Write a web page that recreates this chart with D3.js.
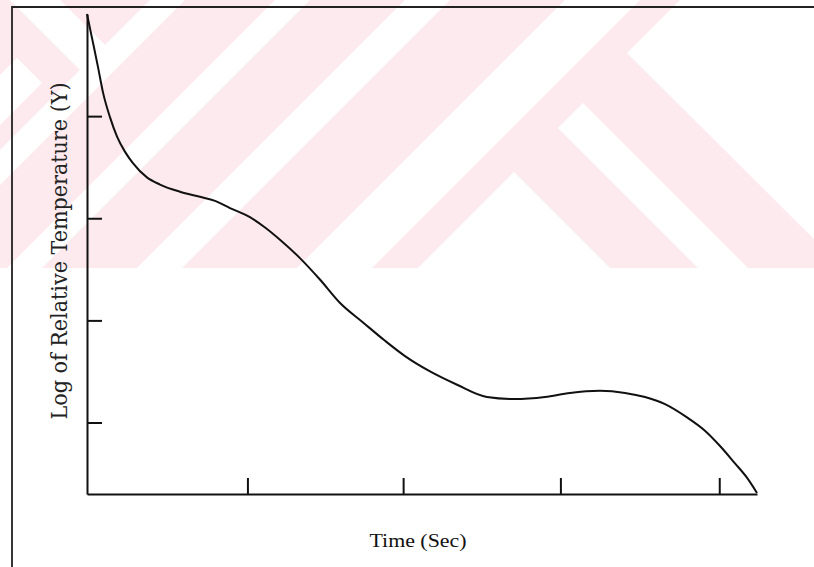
<!DOCTYPE html>
<html>
<head>
<meta charset="utf-8">
<script src="https://cdn.jsdelivr.net/npm/d3@7"></script>
<style>
  body { margin: 0; background: #fff; }
</style>
</head>
<body>
<div id="chart"></div>
<script>
// curve (arbitrary units)
var timeValues = [0, 0.038, 0.070, 0.102, 0.146, 0.191, 0.242, 0.292, 0.381, 0.464,
    0.591, 0.718, 0.814, 0.909, 1.036, 1.132, 1.227, 1.354, 1.481, 1.609,
    1.755, 1.895, 2.022, 2.181, 2.353, 2.543, 2.715, 2.912, 3.071, 3.262,
    3.421, 3.548, 3.675, 3.815, 3.929, 4.025, 4.120, 4.196, 4.260];
var logTemp = [5.00, 4.72, 4.48, 4.23, 3.99, 3.80, 3.65, 3.54, 3.40, 3.33,
    3.26, 3.21, 3.17, 3.10, 3.01, 2.91, 2.79, 2.61, 2.40, 2.17,
    1.98, 1.80, 1.65, 1.50, 1.37, 1.25, 1.23, 1.25, 1.29, 1.31,
    1.29, 1.25, 1.18, 1.05, 0.92, 0.77, 0.60, 0.46, 0.31];
var xTicks = [1.02, 2.01, 3.01, 4.02];
var yTicks = [1, 2, 3, 4];
var xLabel = 'Time (Sec)';
var yLabel = 'Log of Relative Temperature (Y)';

var width = 814;
var height = 567;

var svg = d3.select('#chart')
    .append('svg')
    .attr('width', width)
    .attr('height', height);

// pink watermark band of the scan
var band = {w: 814, h: 268};
svg.append('clipPath').attr('id', 'bandClip')
    .append('rect').attr('width', band.w).attr('height', band.h);
var wm = svg.append('g').attr('clip-path', 'url(#bandClip)');
wm.append('rect').attr('width', band.w).attr('height', band.h).attr('fill', '#fdeaee');

// white gaps: up-right stripes (x+y = c) and down-right pieces
function upStripe(c1, c2) {
    return [[c1, 0], [c2, 0], [c2 - band.h, band.h], [c1 - band.h, band.h]];
}
var gaps = [
    upStripe(150, 185), upStripe(275, 310), upStripe(405, 450), upStripe(565, 640),
    [[10, 0], [60, 0], [110, 50], [85, 75]],
    [[0, 75], [17, 58], [42, 83], [0, 125]],
    [[514, 172], [610, 268], [418, 268]],
    [[558, 128], [583, 103], [748, 268], [698, 268]],
    [[627, 53], [680, 0], [814, 0], [814, 239]]
];
wm.selectAll('polygon')
    .data(gaps)
    .enter()
    .append('polygon')
    .attr('points', function (d) { return d.map(function (p) { return p.join(','); }).join(' '); })
    .attr('fill', '#fff');

// frame lines of the scanned page
svg.append('path')
    .attr('d', 'M12,567V7H814')
    .attr('fill', 'none')
    .attr('stroke', '#222')
    .attr('stroke-width', 1.8);

var xScale = d3.scaleLinear()
    .domain([0, 4.26])
    .range([87, 757]);
var yScale = d3.scaleLinear()
    .domain([0.3, 5.0])
    .range([494, 14]);

var xAxis = d3.axisBottom(xScale)
    .tickValues(xTicks)
    .tickSize(-16)
    .tickSizeOuter(0)
    .tickFormat('');
var yAxis = d3.axisLeft(yScale)
    .tickValues(yTicks)
    .tickSize(-15)
    .tickSizeOuter(0)
    .tickFormat('');

svg.append('g')
    .attr('class', 'axis')
    .attr('transform', 'translate(0,494)')
    .call(xAxis);
svg.append('g')
    .attr('class', 'axis')
    .attr('transform', 'translate(87,0)')
    .call(yAxis);
svg.selectAll('.axis path, .axis line')
    .attr('stroke', '#111')
    .attr('stroke-width', 2);

var dataset = timeValues.map(function (t, i) { return [t, logTemp[i]]; });
var linePath = d3.line()
    .x(function (d) { return xScale(d[0]); })
    .y(function (d) { return yScale(d[1]); })
    .curve(d3.curveMonotoneX);
svg.append('path')
    .attr('d', linePath(dataset))
    .attr('fill', 'none')
    .attr('stroke', '#111')
    .attr('stroke-width', 2);

// axis titles
svg.append('text')
    .attr('transform', 'translate(67,251) rotate(-90)')
    .attr('text-anchor', 'middle')
    .attr('font-family', 'DejaVu Serif, serif')
    .attr('font-size', 23)
    .attr('textLength', 337)
    .attr('lengthAdjust', 'spacingAndGlyphs')
    .attr('fill', '#222')
    .text(yLabel);
svg.append('text')
    .attr('x', 418)
    .attr('y', 547)
    .attr('text-anchor', 'middle')
    .attr('font-family', 'Liberation Serif, Times New Roman, serif')
    .attr('font-size', 19)
    .attr('textLength', 97)
    .attr('lengthAdjust', 'spacingAndGlyphs')
    .attr('fill', '#111')
    .text(xLabel);
</script>
</body>
</html>
